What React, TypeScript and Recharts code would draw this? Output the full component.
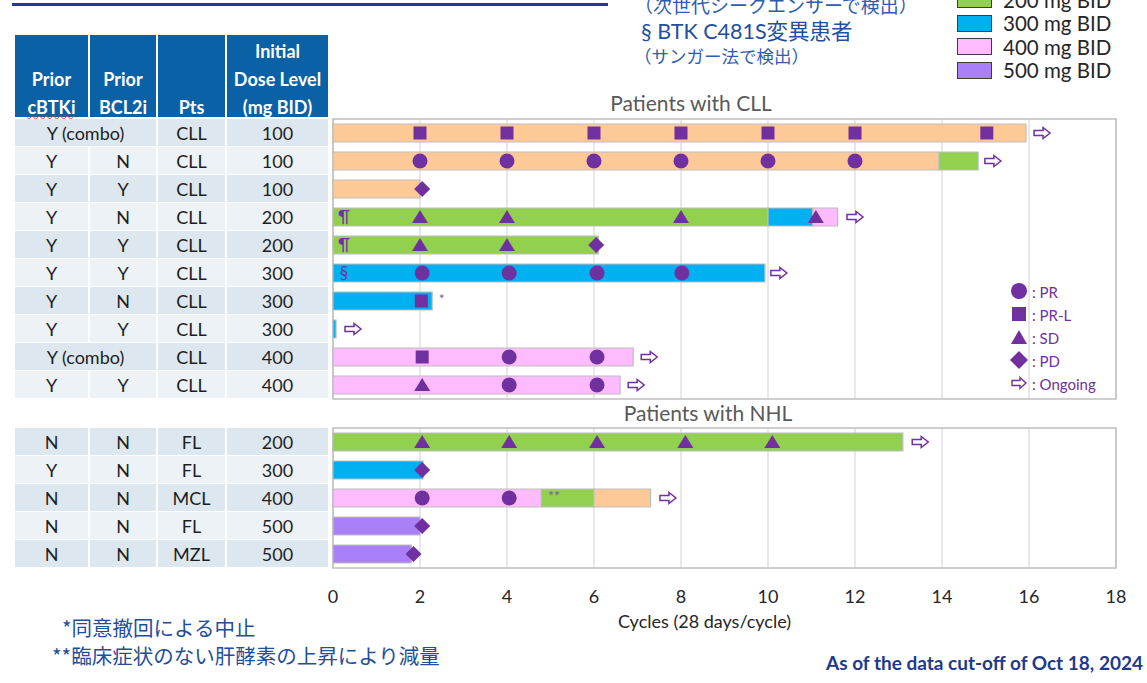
import React from 'react'
import { ComposedChart, Bar, Cell, Scatter, XAxis, YAxis, CartesianGrid, ReferenceArea } from 'recharts'

const PURPLE = '#7030A0'
const FONT = "Lato, 'Noto Sans CJK JP', sans-serif"
const JP = "'Noto Sans CJK JP', sans-serif"
const DOSE_COLORS: Record<number, string> = {
  100: '#FDCA97',
  200: '#92D050',
  300: '#00B0F0',
  400: '#FFBBFF',
  500: '#A980F7',
}

const xTicks = [0, 2, 4, 6, 8, 10, 12, 14, 16, 18]
const legendDoses = [200, 300, 400, 500]

// CLL patients (table columns)
const cllCbtki = ['Y (combo)', 'Y', 'Y', 'Y', 'Y', 'Y', 'Y', 'Y', 'Y (combo)', 'Y']
const cllBcl2i = ['', 'N', 'Y', 'N', 'Y', 'Y', 'N', 'Y', '', 'Y']
const cllPts = ['CLL', 'CLL', 'CLL', 'CLL', 'CLL', 'CLL', 'CLL', 'CLL', 'CLL', 'CLL']
const cllDose = [100, 100, 100, 200, 200, 300, 300, 300, 400, 400]

// CLL bar segments (cycles) and their dose levels
const cllSeg1 = [15.93, 13.93, 2.0, 10.0, 6.1, 9.93, 2.28, 0.07, 6.9, 6.6]
const cllSeg2 = [0, 0.9, 0, 1.03, 0, 0, 0, 0, 0, 0]
const cllDose2 = [0, 200, 0, 300, 0, 0, 0, 0, 0, 0]
const cllSeg3 = [0, 0, 0, 0.57, 0, 0, 0, 0, 0, 0]
const cllDose3 = [0, 0, 0, 400, 0, 0, 0, 0, 0, 0]

// CLL responses: [row, cycle]
const cllPR = [[1, 2], [1, 4], [1, 6], [1, 8], [1, 10], [1, 12], [5, 2.05], [5, 4.05], [5, 6.07], [5, 8.02], [8, 4.05], [8, 6.07], [9, 4.05], [9, 6.07]]
const cllPRL = [[0, 2], [0, 4], [0, 6], [0, 8], [0, 10], [0, 12], [0, 15.03], [6, 2.03], [8, 2.05]]
const cllSD = [[3, 2], [3, 4], [3, 8], [3, 11.1], [4, 2], [4, 4], [9, 2.05]]
const cllPD = [[2, 2.05], [4, 6.05]]
const cllOngoing = [[0, 16.3], [1, 15.17], [3, 12.0], [5, 10.25], [7, 0.46], [8, 7.27], [9, 6.97]]
const cllNotes: [number, number, string][] = [[3, 0.25, '¶'], [4, 0.25, '¶'], [5, 0.25, '§'], [6, 2.5, '*']]

// NHL patients
const nhlCbtki = ['N', 'Y', 'N', 'N', 'N']
const nhlBcl2i = ['N', 'N', 'N', 'N', 'N']
const nhlPts = ['FL', 'FL', 'MCL', 'FL', 'MZL']
const nhlDose = [200, 300, 400, 500, 500]

const nhlSeg1 = [13.1, 2.07, 4.79, 2.0, 1.8]
const nhlSeg2 = [0, 0, 1.21, 0, 0]
const nhlDose2 = [0, 0, 200, 0, 0]
const nhlSeg3 = [0, 0, 1.3, 0, 0]
const nhlDose3 = [0, 0, 100, 0, 0]

const nhlPR = [[2, 2.05], [2, 4.05]]
const nhlPRL: number[][] = []
const nhlSD = [[0, 2.05], [0, 4.05], [0, 6.07], [0, 8.1], [0, 10.1]]
const nhlPD = [[1, 2.05], [3, 2.05], [4, 1.85]]
const nhlOngoing = [[0, 13.5], [2, 7.7]]
const nhlNotes: [number, number, string][] = [[2, 5.08, '**']]

const toPts = (arr: number[][]) => arr.map(([y, x]) => ({ x, y }))
const toNotes = (arr: [number, number, string][]) => arr.map(([y, x, label]) => ({ x, y, label }))

const CircleShape = (p: any) => <circle cx={p.cx} cy={p.cy} r={7.5} fill={PURPLE} />
const SquareShape = (p: any) => <rect x={p.cx - 6.5} y={p.cy - 6.5} width={13} height={13} fill={PURPLE} />
const TriangleShape = (p: any) => (
  <path d={`M${p.cx},${p.cy - 7} L${p.cx + 8},${p.cy + 6} L${p.cx - 8},${p.cy + 6} Z`} fill={PURPLE} />
)
const DiamondShape = (p: any) => (
  <path d={`M${p.cx},${p.cy - 8} L${p.cx + 8},${p.cy} L${p.cx},${p.cy + 8} L${p.cx - 8},${p.cy} Z`} fill={PURPLE} />
)
const ArrowShape = (p: any) => (
  <path
    d={`M${p.cx - 8},${p.cy - 2.5} H${p.cx + 1} V${p.cy - 5.5} L${p.cx + 8},${p.cy} L${p.cx + 1},${p.cy + 5.5} V${p.cy + 2.5} H${p.cx - 8} Z`}
    fill="#fff"
    stroke={PURPLE}
    strokeWidth={1.5}
  />
)
const NoteShape = (p: any) => {
  const small = p.payload.label.startsWith('*')
  return (
    <text
      x={p.cx}
      y={small ? p.cy + 3 : p.cy + 6}
      textAnchor="middle"
      fontSize={small ? 14 : 17}
      fill={small ? '#7F5C9E' : PURPLE}
      fontFamily={FONT}
    >
      {p.payload.label}
    </text>
  )
}

interface PanelProps {
  left: number
  top: number
  seg1: number[]
  dose1: number[]
  seg2: number[]
  dose2: number[]
  seg3: number[]
  dose3: number[]
  pr: number[][]
  prl: number[][]
  sd: number[][]
  pd: number[][]
  ongoing: number[][]
  notes: [number, number, string][]
  showAxis: boolean
}

function Panel(props: PanelProps) {
  const n = props.seg1.length
  const data = props.seg1.map((v, i) => ({
    row: `r${i}`,
    s1: v,
    s2: props.seg2[i] || null,
    s3: props.seg3[i] || null,
  }))
  const plotH = n * 28
  const axisH = props.showAxis ? 70 : 0
  const height = 10 + plotH + (props.showAxis ? axisH : 10)
  const barStroke = '#BDBDBD'
  const markers = [
    { pts: props.pr, shape: CircleShape },
    { pts: props.prl, shape: SquareShape },
    { pts: props.sd, shape: TriangleShape },
    { pts: props.pd, shape: DiamondShape },
    { pts: props.ongoing, shape: ArrowShape },
  ].filter((m) => m.pts.length > 0)
  return (
    <div style={{ position: 'absolute', left: props.left, top: props.top }}>
      <ComposedChart
        layout="vertical"
        width={803}
        height={height}
        data={data}
        margin={{ top: 10, right: 10, bottom: props.showAxis ? 0 : 10, left: 10 }}
      >
        <CartesianGrid horizontal={false} stroke="#D9D9D9" strokeWidth={1.2} />
        <XAxis
          type="number"
          domain={[0, 18]}
          ticks={xTicks}
          interval={0}
          hide={!props.showAxis}
          height={axisH}
          axisLine={false}
          tickLine={false}
          tickMargin={16}
          tick={{ fontSize: 18, fill: '#262626', fontFamily: FONT }}
          label={
            props.showAxis
              ? { value: 'Cycles (28 days/cycle)', position: 'insideBottom', offset: 10, dx: -20, fontSize: 18, fill: '#262626', fontFamily: FONT }
              : undefined
          }
        />
        <YAxis type="category" dataKey="row" hide />
        <YAxis yAxisId="num" type="number" dataKey="y" domain={[-0.5, n - 0.5]} hide />
        <ReferenceArea x1={0} x2={18} fill="none" stroke="#BFBFBF" strokeWidth={1.5} ifOverflow="visible" />
        <Bar dataKey="s1" stackId="a" barSize={18} stroke={barStroke} strokeWidth={1.2} isAnimationActive={false}>
          {props.dose1.map((d, i) => <Cell key={i} fill={DOSE_COLORS[d]} />)}
        </Bar>
        <Bar dataKey="s2" stackId="a" barSize={18} stroke={barStroke} strokeWidth={1.2} isAnimationActive={false}>
          {props.dose2.map((d, i) => <Cell key={i} fill={DOSE_COLORS[d] || 'none'} />)}
        </Bar>
        <Bar dataKey="s3" stackId="a" barSize={18} stroke={barStroke} strokeWidth={1.2} isAnimationActive={false}>
          {props.dose3.map((d, i) => <Cell key={i} fill={DOSE_COLORS[d] || 'none'} />)}
        </Bar>
        {markers.map((m, i) => (
          <Scatter key={i} yAxisId="num" data={toPts(m.pts)} dataKey="x" shape={m.shape} isAnimationActive={false} />
        ))}
        <Scatter yAxisId="num" data={toNotes(props.notes)} dataKey="x" shape={NoteShape} isAnimationActive={false} />
      </ComposedChart>
    </div>
  )
}

const COLS = [
  { left: 15, width: 75 },
  { left: 90, width: 68 },
  { left: 158, width: 69 },
  { left: 227, width: 103 },
]

function Table({ top, c1, c2, c3, c4 }: { top: number; c1: string[]; c2: string[]; c3: string[]; c4: number[] }) {
  return (
    <>
      {c1.map((v, i) => {
        const y = top + i * 28
        const bg = i % 2 === 0 ? '#DDE7F0' : '#EDF2F7'
        const merged = c2[i] === ''
        const cells = merged
          ? [
              { left: 15, width: 143, text: v },
              { left: 158, width: 69, text: c3[i] },
              { left: 227, width: 103, text: String(c4[i]) },
            ]
          : [
              { ...COLS[0], text: v },
              { ...COLS[1], text: c2[i] },
              { ...COLS[2], text: c3[i] },
              { ...COLS[3], text: String(c4[i]) },
            ]
        return cells.map((c, j) => (
          <div
            key={`${i}-${j}`}
            style={{
              position: 'absolute',
              left: c.left,
              top: y,
              width: c.width - 2,
              height: 27,
              background: bg,
              textAlign: 'center',
              lineHeight: '28px',
              fontSize: 18,
              color: '#1E1E1E',
              fontFamily: FONT,
            }}
          >
            {c.text}
          </div>
        ))
      })}
    </>
  )
}

const headerLines = [
  ['', 'Prior', 'cBTKi'],
  ['', 'Prior', 'BCL2i'],
  ['', '', 'Pts'],
  ['Initial', 'Dose Level', '(mg BID)'],
]

function Header() {
  return (
    <>
      {COLS.map((c, i) => (
        <div
          key={i}
          style={{
            position: 'absolute',
            left: c.left,
            top: 35,
            width: c.width - 2,
            height: 82,
            background: '#0A61A6',
            color: '#fff',
            fontWeight: 700,
            fontSize: 18,
            fontFamily: FONT,
            textAlign: 'center',
          }}
        >
          {headerLines[i].map((t, k) => (
            <div key={k} style={{ height: 28, lineHeight: '28px', marginTop: k === 0 ? 2 : 0 }}>
              <span
                style={
                  t === 'cBTKi'
                    ? {
                        textDecorationLine: 'underline',
                        textDecorationStyle: 'wavy',
                        textDecorationColor: '#E04040',
                        textDecorationThickness: '1px',
                        textUnderlineOffset: '1px',
                      }
                    : undefined
                }
              >
                {t || '\u00a0'}
              </span>
            </div>
          ))}
        </div>
      ))}
    </>
  )
}

function MarkerLegend() {
  const items = [
    { label: ': PR', icon: <circle cx={9} cy={9} r={8} fill={PURPLE} /> },
    { label: ': PR-L', icon: <rect x={2} y={2} width={14} height={14} fill={PURPLE} /> },
    { label: ': SD', icon: <path d="M9,2 L17,16 L1,16 Z" fill={PURPLE} /> },
    { label: ': PD', icon: <path d="M9,0 L18,9 L9,18 L0,9 Z" fill={PURPLE} /> },
    {
      label: ': Ongoing',
      icon: <path d="M2,6.5 H10 V3.5 L16,9 L10,14.5 V11.5 H2 Z" fill="#fff" stroke={PURPLE} strokeWidth={1.4} />,
    },
  ]
  return (
    <div style={{ position: 'absolute', left: 1010, top: 280 }}>
      {items.map((it, i) => (
        <div key={i} style={{ display: 'flex', alignItems: 'center', height: 23 }}>
          <svg width={19} height={19}>{it.icon}</svg>
          <span style={{ fontSize: 15, color: PURPLE, fontFamily: FONT, marginLeft: 3 }}>{it.label}</span>
        </div>
      ))}
    </div>
  )
}

function DoseLegend() {
  return (
    <div style={{ position: 'absolute', left: 957, top: -12 }}>
      {legendDoses.map((d) => (
        <div key={d} style={{ display: 'flex', alignItems: 'center', height: 23.5 }}>
          <div
            style={{
              width: 33,
              height: 15,
              background: DOSE_COLORS[d],
              border: '1px solid #3C3C3C',
            }}
          />
          <span style={{ marginLeft: 11, fontSize: 20.5, color: '#262626', fontFamily: FONT }}>{d} mg BID</span>
        </div>
      ))}
    </div>
  )
}

export default function App() {
  return (
    <div
      style={{
        position: 'absolute',
        left: 0,
        top: 0,
        width: 1147,
        height: 683,
        background: '#fff',
        overflow: 'hidden',
        fontFamily: FONT,
      }}
    >
      <div style={{ position: 'absolute', left: 12, top: 3, width: 596, height: 2.5, background: '#1F3C99' }} />

      <div style={{ position: 'absolute', left: 634, top: -9, fontSize: 19, color: '#2F5CAE', fontFamily: JP, whiteSpace: 'nowrap' }}>
        （次世代シークエンサーで検出）
      </div>
      <div style={{ position: 'absolute', left: 641, top: 14, fontSize: 21.5, color: '#1F4FA0', fontFamily: FONT, whiteSpace: 'nowrap' }}>
        § BTK C481S変異患者
      </div>
      <div style={{ position: 'absolute', left: 634, top: 43, fontSize: 17.5, color: '#2F5CAE', fontFamily: JP, whiteSpace: 'nowrap' }}>
        （サンガー法で検出）
      </div>

      <DoseLegend />
      <Header />
      <Table top={119} c1={cllCbtki} c2={cllBcl2i} c3={cllPts} c4={cllDose} />
      <Table top={428} c1={nhlCbtki} c2={nhlBcl2i} c3={nhlPts} c4={nhlDose} />

      <div style={{ position: 'absolute', left: 524, width: 334, top: 90, textAlign: 'center', fontSize: 21, color: '#595959' }}>
        Patients with CLL
      </div>
      <div style={{ position: 'absolute', left: 541, width: 334, top: 400, textAlign: 'center', fontSize: 21, color: '#595959' }}>
        Patients with NHL
      </div>

      <Panel
        left={323}
        top={109}
        seg1={cllSeg1}
        dose1={cllDose}
        seg2={cllSeg2}
        dose2={cllDose2}
        seg3={cllSeg3}
        dose3={cllDose3}
        pr={cllPR}
        prl={cllPRL}
        sd={cllSD}
        pd={cllPD}
        ongoing={cllOngoing}
        notes={cllNotes}
        showAxis={false}
      />
      <Panel
        left={323}
        top={418}
        seg1={nhlSeg1}
        dose1={nhlDose}
        seg2={nhlSeg2}
        dose2={nhlDose2}
        seg3={nhlSeg3}
        dose3={nhlDose3}
        pr={nhlPR}
        prl={nhlPRL}
        sd={nhlSD}
        pd={nhlPD}
        ongoing={nhlOngoing}
        notes={nhlNotes}
        showAxis={true}
      />

      <MarkerLegend />

      <div style={{ position: 'absolute', left: 62, top: 616, fontSize: 20.5, lineHeight: '22px', color: '#1F4E9A', fontFamily: JP, whiteSpace: 'nowrap' }}>
        *同意撤回による中止
      </div>
      <div style={{ position: 'absolute', left: 52, top: 644, fontSize: 20.5, lineHeight: '22px', color: '#1F4E9A', fontFamily: JP, whiteSpace: 'nowrap' }}>
        **臨床症状のない肝酵素の上昇により減量
      </div>
      <div
        style={{
          position: 'absolute',
          right: 4,
          top: 651,
          fontSize: 19,
          fontWeight: 700,
          color: '#1F3A8C',
          fontFamily: FONT,
          whiteSpace: 'nowrap',
        }}
      >
        As of the data cut-off of Oct 18, 2024
      </div>
    </div>
  )
}
